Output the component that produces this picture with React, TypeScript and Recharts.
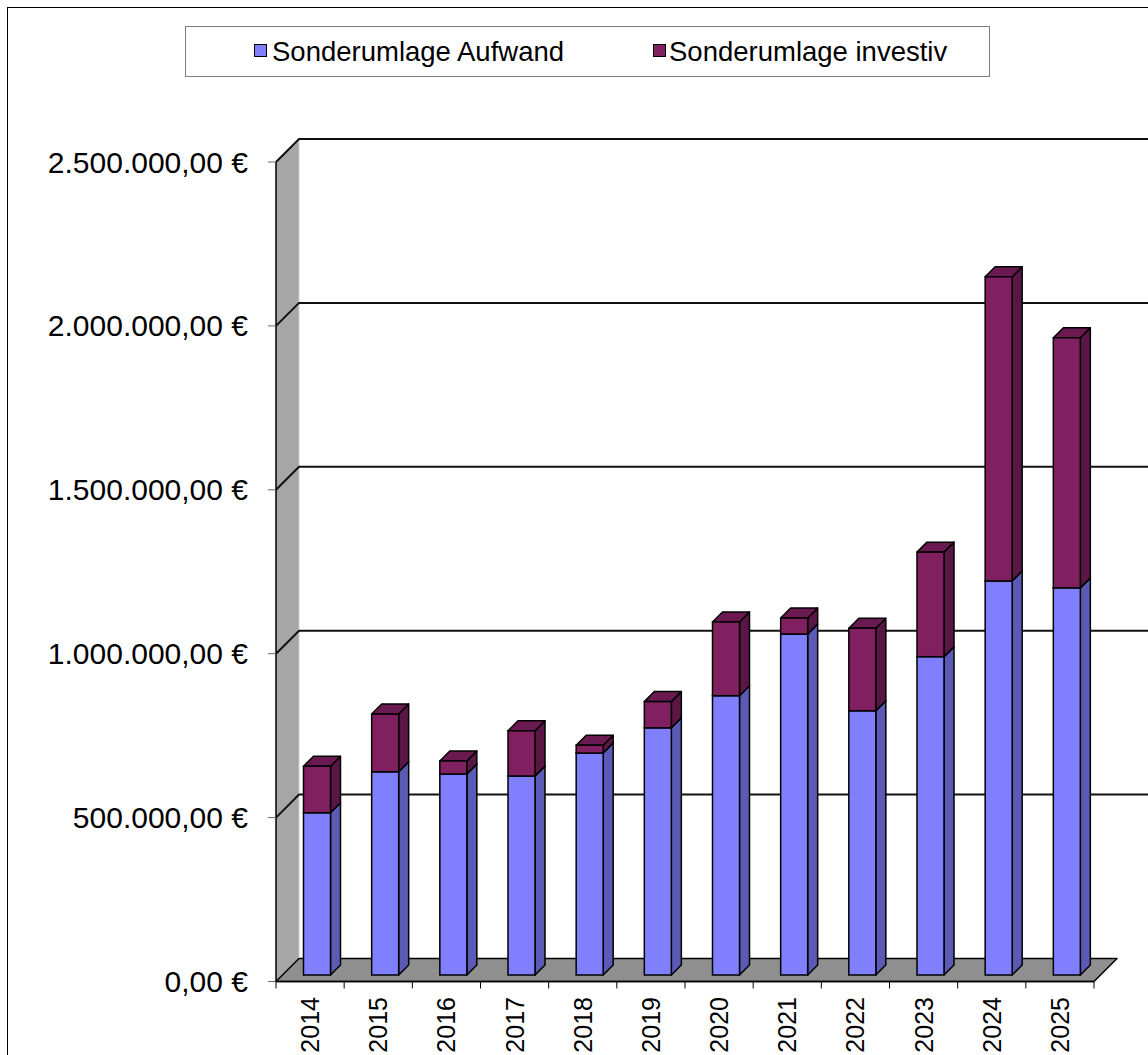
import React from 'react';
import { BarChart, Bar, XAxis, YAxis, CartesianGrid, Legend } from 'recharts';

const years = ['2014', '2015', '2016', '2017', '2018', '2019', '2020', '2021', '2022', '2023', '2024', '2025'];
const aufwand = [495000, 620000, 613000, 607000, 677000, 754000, 852000, 1040000, 806000, 971000, 1202000, 1181000];
const investiv = [142000, 176000, 40000, 138000, 24000, 80000, 225000, 49000, 252000, 319000, 928000, 763000];
const yTicks = [0, 500000, 1000000, 1500000, 2000000, 2500000];
const seriesNames = ['Sonderumlage Aufwand', 'Sonderumlage investiv'];
const seriesColors = ['#8080ff', '#802060'];

const data = years.map((y, i) => ({ year: y, aufwand: aufwand[i], investiv: investiv[i] }));

const FONT = "'Liberation Sans', Arial, Helvetica, sans-serif";
const WALL = 23; // depth of walls/floor
const OFF = 6.5; // bar position depth
const BD = 10; // bar depth
const X_MARGIN = 15.5;

function fmtEuro(v: number): string {
  const s = Math.round(v).toString().replace(/\B(?=(\d{3})+(?!\d))/g, '.');
  return s + ',00 €';
}

const make3D = (front: string, side: string, top: string) => (props: any) => {
  const { x, y, width, height } = props;
  if (width == null || height == null) return <g />;
  const fx = x + OFF;
  const fy = y - OFF;
  return (
    <g>
      <polygon
        points={`${fx + width},${fy} ${fx + width + BD},${fy - BD} ${fx + width + BD},${fy + height - BD} ${fx + width},${fy + height}`}
        fill={side}
        stroke="#000"
        strokeWidth={1.5}
        strokeLinejoin="round"
      />
      <polygon
        points={`${fx},${fy} ${fx + BD},${fy - BD} ${fx + width + BD},${fy - BD} ${fx + width},${fy}`}
        fill={top}
        stroke="#000"
        strokeWidth={1.5}
        strokeLinejoin="round"
      />
      <rect x={fx} y={fy} width={width} height={height} fill={front} stroke="#000" strokeWidth={1.5} />
    </g>
  );
};

const shapeA = make3D('#8080ff', '#5b5bb6', '#6c6cd8');
const shapeB = make3D('#802060', '#5a1644', '#6a1a50');

const gridLine = (props: any) => {
  const { x1, y1, x2, index } = props;
  const gx = props.x ?? props.offset?.left ?? x1;
  const gy = props.y ?? props.offset?.top;
  const gh = props.height ?? props.offset?.height;
  const gw = props.width ?? props.offset?.width ?? x2 - x1;
  const bottom = gy + gh;
  const isBottom = Math.abs(y1 - bottom) < 0.5;
  return (
    <g key={`gl-${index}`}>
      {index === 0 && (
        <g>
          <polygon
            points={`${gx},${bottom} ${gx},${gy} ${gx + WALL},${gy - WALL} ${gx + WALL},${bottom - WALL}`}
            fill="#a6a6a6"
            stroke="none"
          />
          <line x1={gx + WALL} y1={gy - WALL} x2={gx + WALL} y2={bottom - WALL} stroke="#cfcfcf" strokeWidth={1} />
          <polygon
            points={`${gx},${bottom} ${gx + gw},${bottom} ${gx + gw + WALL},${bottom - WALL} ${gx + WALL},${bottom - WALL}`}
            fill="#8f8f8f"
            stroke="#000"
            strokeWidth={1.5}
            strokeLinejoin="round"
          />
        </g>
      )}
      {!isBottom && (
        <polyline
          points={`${x1},${y1} ${x1 + WALL},${y1 - WALL} ${x2 + 54},${y1 - WALL}`}
          fill="none"
          stroke="#111"
          strokeWidth={2}
        />
      )}
    </g>
  );
};

const YTick = (props: any) => {
  const { x, y, payload } = props;
  return (
    <text x={x} y={y} dy="0.35em" textAnchor="end" fontSize={30} fontFamily={FONT} fill="#000">
      {fmtEuro(payload.value)}
    </text>
  );
};

const XTick = (props: any) => {
  const { x, y, payload, index } = props;
  const off = payload.offset ?? 0;
  const axisY = y - X_MARGIN;
  const start = payload.coordinate - off;
  const isLast = index === years.length - 1;
  return (
    <g>
      <line x1={start} y1={axisY} x2={start} y2={axisY + 7} stroke="#000" strokeWidth={1} />
      {isLast && (
        <line x1={payload.coordinate + off} y1={axisY} x2={payload.coordinate + off} y2={axisY + 7} stroke="#000" strokeWidth={1} />
      )}
      <text
        transform={`translate(${x + 9},${y}) rotate(-90)`}
        textAnchor="end"
        fontSize={25}
        fontFamily={FONT}
        fill="#000"
      >
        {payload.value}
      </text>
    </g>
  );
};

const itemPos = [
  { sq: 68, tx: 86 },
  { sq: 467, tx: 483 },
];

const LegendBox = (props: any) => {
  const payload = props.payload && props.payload.length ? props.payload : seriesNames.map((n, i) => ({ value: n, color: seriesColors[i] }));
  return (
    <div
      style={{
        position: 'relative',
        boxSizing: 'border-box',
        width: 805,
        height: 51,
        border: '1px solid #7f7f7f',
        background: '#fff',
        fontFamily: FONT,
        fontSize: 27.5,
        color: '#000',
      }}
    >
      {payload.map((p: any, i: number) => (
        <React.Fragment key={i}>
          <span
            style={{
              position: 'absolute',
              left: itemPos[i].sq,
              top: 17,
              boxSizing: 'border-box',
              width: 13,
              height: 13,
              background: p.color,
              border: '1.5px solid #000',
            }}
          />
          <span
            style={{
              position: 'absolute',
              left: itemPos[i].tx,
              top: 0,
              lineHeight: '49px',
              whiteSpace: 'nowrap',
            }}
          >
            {p.value}
          </span>
        </React.Fragment>
      ))}
    </div>
  );
};

export default function App() {
  return (
    <div style={{ position: 'absolute', left: 0, top: 0, width: 1148, height: 1055, overflow: 'hidden', background: '#fff' }}>
      <div
        style={{
          position: 'absolute',
          left: 7,
          top: 7,
          width: 1141,
          height: 1048,
          borderLeft: '1px solid #000',
          borderTop: '1px solid #000',
          boxSizing: 'border-box',
        }}
      />
      <div style={{ position: 'absolute', left: 0, top: 0 }}>
        <BarChart width={1148} height={1055} data={data} margin={{ top: 162, right: 54, bottom: 0, left: 0 }}>
          <CartesianGrid vertical={false} horizontal={gridLine} />
          <XAxis
            dataKey="year"
            height={73.5}
            tickSize={0}
            tickMargin={X_MARGIN}
            tickLine={false}
            axisLine={{ stroke: '#000', strokeWidth: 1.5 }}
            interval={0}
            tick={<XTick />}
          />
          <YAxis
            type="number"
            domain={[0, 2500000]}
            ticks={yTicks}
            interval={0}
            width={276}
            tickSize={8}
            tickMargin={20}
            axisLine={{ stroke: '#000', strokeWidth: 1.5 }}
            tickLine={{ stroke: '#666', strokeWidth: 1 }}
            tick={<YTick />}
          />
          <Legend
            layout="vertical"
            align="center"
            verticalAlign="middle"
            wrapperStyle={{ left: 185, top: 26, width: 805, height: 51, right: 'auto', bottom: 'auto' }}
            content={<LegendBox />}
          />
          <Bar
            dataKey="aufwand"
            name={seriesNames[0]}
            stackId="s"
            fill={seriesColors[0]}
            barSize={27}
            shape={shapeA}
            isAnimationActive={false}
          />
          <Bar
            dataKey="investiv"
            name={seriesNames[1]}
            stackId="s"
            fill={seriesColors[1]}
            barSize={27}
            shape={shapeB}
            isAnimationActive={false}
          />
        </BarChart>
      </div>
    </div>
  );
}
